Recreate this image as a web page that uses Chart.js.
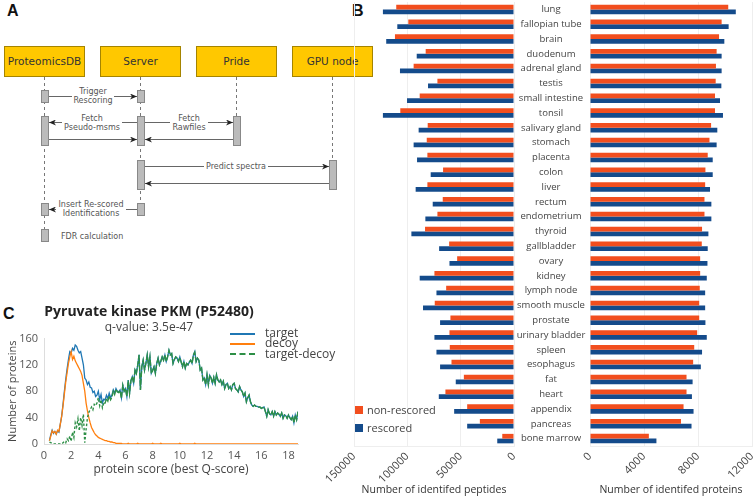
<!DOCTYPE html>
<html>
<head>
<meta charset="utf-8">
<script src="https://cdn.jsdelivr.net/npm/chart.js@4.4.1/dist/chart.umd.min.js"></script>
<style>
  body { margin: 0; background: #fff; }
  #page { position: relative; width: 756px; height: 498px; overflow: hidden; font-family: "Open Sans", sans-serif; }
  .letter { position: absolute; font: bold 16px "Liberation Sans", Arial, sans-serif; color: #111; line-height: 16px; }
  canvas { position: absolute; }
  .sw { position: absolute; width: 8px; height: 8px; }
  .txt { position: absolute; white-space: nowrap; color: #444; }
  .ln { position: absolute; width: 25px; height: 0; }
</style>
</head>
<body>
<div id="page">

  <!-- A: workflow sequence diagram -->
  <svg width="380" height="260" style="position:absolute;left:0;top:0" font-family="DejaVu Sans, sans-serif">
    <defs>
      <marker id="ah" markerWidth="7" markerHeight="6" refX="7" refY="3" orient="auto" markerUnits="userSpaceOnUse">
        <path d="M0,0 L7,3 L0,6 L2,3 z" fill="#222"/>
      </marker>
    </defs>
    <g fill="#ffc800" stroke="#a58400">
      <rect x="4.5" y="46.5" width="80" height="30"/>
      <rect x="100.5" y="46.5" width="80" height="30"/>
      <rect x="196.5" y="46.5" width="80" height="30"/>
      <rect x="292.5" y="46.5" width="80" height="30"/>
    </g>
    <g font-size="10.5" fill="#333" text-anchor="middle">
      <text x="44.5" y="65">ProteomicsDB</text>
      <text x="140.5" y="65">Server</text>
      <text x="236.5" y="65">Pride</text>
      <text x="332.5" y="65">GPU node</text>
    </g>
    <g stroke="#777" stroke-dasharray="3,3">
      <line x1="44.5" y1="77" x2="44.5" y2="229"/>
      <line x1="140.5" y1="77" x2="140.5" y2="203"/>
      <line x1="236.5" y1="77" x2="236.5" y2="116"/>
      <line x1="332.5" y1="77" x2="332.5" y2="160"/>
    </g>
    <g fill="#bbb" stroke="#888">
      <rect x="41.5" y="90.5" width="7" height="12"/>
      <rect x="41.5" y="116.5" width="7" height="29"/>
      <rect x="41.5" y="203.5" width="7" height="12"/>
      <rect x="41.5" y="229.5" width="7" height="12"/>
      <rect x="137.5" y="90.5" width="7" height="12"/>
      <rect x="137.5" y="116.5" width="7" height="29"/>
      <rect x="137.5" y="160.5" width="7" height="29"/>
      <rect x="137.5" y="203.5" width="7" height="12"/>
      <rect x="233.5" y="116.5" width="7" height="29"/>
      <rect x="329.5" y="160.5" width="7" height="29"/>
    </g>
    <g stroke="#666" fill="none" marker-end="url(#ah)">
      <line x1="49" y1="96.5" x2="137" y2="96.5"/>
      <line x1="137" y1="122.5" x2="49" y2="122.5"/>
      <line x1="145" y1="122.5" x2="233" y2="122.5"/>
      <line x1="49" y1="139.5" x2="137" y2="139.5"/>
      <line x1="233" y1="139.5" x2="145" y2="139.5"/>
      <line x1="145" y1="166.5" x2="329" y2="166.5"/>
      <line x1="329" y1="183.5" x2="145" y2="183.5"/>
      <line x1="137" y1="209.5" x2="49" y2="209.5"/>
    </g>
    <g fill="#fff">
      <rect x="72" y="92" width="42" height="9"/>
      <rect x="62" y="118" width="60" height="9"/>
      <rect x="170" y="118" width="38" height="9"/>
      <rect x="204" y="161" width="64" height="10"/>
      <rect x="56" y="205" width="70" height="9"/>
    </g>
    <g font-size="8" fill="#555" text-anchor="middle">
      <text x="93" y="93.5">Trigger</text>
      <text x="93" y="102.5">Rescoring</text>
      <text x="92" y="120.5">Fetch</text>
      <text x="92" y="129.5">Pseudo-msms</text>
      <text x="189" y="120.5">Fetch</text>
      <text x="189" y="129.5">Rawfiles</text>
      <text x="236" y="169">Predict spectra</text>
      <text x="91" y="207">Insert Re-scored</text>
      <text x="91" y="216">Identifications</text>
      <text x="61" y="238.5" text-anchor="start">FDR calculation</text>
    </g>
  </svg>

  <div class="letter" style="left:7px;top:3px">A</div>
  <div class="letter" style="left:352px;top:3px">B</div>
  <div class="letter" style="left:3px;top:306px">C</div>

  <!-- B: identified peptides / proteins per tissue -->
  <canvas id="pepChart" width="224" height="498" style="left:296px;top:0"></canvas>
  <canvas id="protChart" width="260" height="498" style="left:496px;top:0"></canvas>

  <div class="sw" style="left:355px;top:406px;background:#f24e1e"></div>
  <div class="txt" style="left:367px;top:403px;font-size:11px;line-height:14px">non-rescored</div>
  <div class="sw" style="left:355px;top:424px;background:#144b8b"></div>
  <div class="txt" style="left:367px;top:421px;font-size:11px;line-height:14px">rescored</div>

  <!-- C: protein score distribution -->
  <canvas id="scoreChart" width="320" height="202" style="left:0;top:296px"></canvas>

  <div class="ln" style="left:230px;top:333px;border-top:2px solid #1f77b4"></div>
  <div class="txt" style="left:265px;top:326px;font-size:12px;line-height:14px">target</div>
  <div class="ln" style="left:230px;top:343px;border-top:2px solid #ff7f0e"></div>
  <div class="txt" style="left:265px;top:336px;font-size:12px;line-height:14px">decoy</div>
  <div class="ln" style="left:230px;top:353px;border-top:2px dashed #2d8f46"></div>
  <div class="txt" style="left:265px;top:347px;font-size:12px;line-height:14px">target-decoy</div>
</div>

<script>
// ---- panel B data ----
const tissues = ['lung', 'fallopian tube', 'brain', 'duodenum', 'adrenal gland', 'testis',
  'small intestine', 'tonsil', 'salivary gland', 'stomach', 'placenta', 'colon', 'liver',
  'rectum', 'endometrium', 'thyroid', 'gallbladder', 'ovary', 'kidney', 'lymph node',
  'smooth muscle', 'prostate', 'urinary bladder', 'spleen', 'esophagus', 'fat', 'heart',
  'appendix', 'pancreas', 'bone marrow'];

const peptidesNonRescored = [110400, 99100, 111600, 82800, 94100, 71800, 88400, 106600, 80900, 81800,
  81200, 66500, 81200, 66800, 71800, 83400, 60800, 53300, 74600, 63600,
  74300, 59600, 60500, 60200, 58600, 47000, 64300, 43900, 32000, 11000];
const peptidesRescored = [122900, 109400, 119800, 91200, 106900, 80600, 100300, 122900, 89400, 94100,
  90900, 78100, 92200, 76200, 83100, 96200, 70200, 60500, 88400, 72700,
  85300, 69300, 74600, 72700, 69300, 54600, 70500, 56100, 43900, 15700];

const proteinsNonRescored = [10240, 9750, 9560, 9380, 9330, 9310, 9260, 9260, 8970, 8850,
  8720, 8550, 8530, 8480, 8480, 8300, 8280, 8160, 8160, 8130,
  8090, 8090, 7940, 7720, 7640, 7150, 7150, 6930, 6740, 4360];
const proteinsRescored = [10800, 10270, 9950, 9750, 9750, 9730, 9630, 9850, 9430, 9380,
  9090, 9090, 8890, 8990, 8990, 8770, 8720, 8700, 8650, 8530,
  8530, 8550, 8650, 8300, 8210, 7600, 7550, 7670, 7520, 4920];

// ---- panel C data ----
const scoreBins = [0.4, 0.5, 0.6, 0.7, 0.8, 0.9, 1.0, 1.1, 1.2, 1.3,
  1.4, 1.5, 1.6, 1.7, 1.8, 1.9, 2.0, 2.1, 2.2, 2.3,
  2.4, 2.5, 2.6, 2.7, 2.8, 2.9, 3.0, 3.1, 3.2, 3.3,
  3.4, 3.5, 3.6, 3.7, 3.8, 3.9, 4.0, 4.1, 4.2, 4.3,
  4.4, 4.5, 4.6, 4.7, 4.8, 4.9, 5.0, 5.1, 5.2, 5.3,
  5.4, 5.5, 5.6, 5.7, 5.8, 5.9, 6.0, 6.1, 6.2, 6.3,
  6.4, 6.5, 6.6, 6.7, 6.8, 6.9, 7.0, 7.1, 7.2, 7.3,
  7.4, 7.5, 7.6, 7.7, 7.8, 7.9, 8.0, 8.1, 8.2, 8.3,
  8.4, 8.5, 8.6, 8.7, 8.8, 8.9, 9.0, 9.1, 9.2, 9.3,
  9.4, 9.5, 9.6, 9.7, 9.8, 9.9, 10.0, 10.1, 10.2, 10.3,
  10.4, 10.5, 10.6, 10.7, 10.8, 10.9, 11.0, 11.1, 11.2, 11.3,
  11.4, 11.5, 11.6, 11.7, 11.8, 11.9, 12.0, 12.1, 12.2, 12.3,
  12.4, 12.5, 12.6, 12.7, 12.8, 12.9, 13.0, 13.1, 13.2, 13.3,
  13.4, 13.5, 13.6, 13.7, 13.8, 13.9, 14.0, 14.1, 14.2, 14.3,
  14.4, 14.5, 14.6, 14.7, 14.8, 14.9, 15.0, 15.1, 15.2, 15.3,
  15.4, 15.5, 15.6, 15.7, 15.8, 15.9, 16.0, 16.1, 16.2, 16.3,
  16.4, 16.5, 16.6, 16.7, 16.8, 16.9, 17.0, 17.1, 17.2, 17.3,
  17.4, 17.5, 17.6, 17.7, 17.8, 17.9, 18.0, 18.1, 18.2, 18.3,
  18.4, 18.5, 18.6, 18.7];

const target = [5, 14, 21, 16, 19, 15, 20, 18, 30, 42,
  60, 80, 98, 114, 128, 140, 138, 145, 142, 150,
  148, 142, 138, 140, 130, 120, 100, 97, 90, 94,
  86, 85, 78, 80, 72, 74, 80, 67, 75, 62,
  68, 67, 74, 69, 77, 70, 74, 82, 77, 84,
  80, 79, 82, 70, 89, 80, 84, 72, 97, 77,
  96, 102, 92, 112, 107, 120, 135, 82, 117, 127,
  112, 122, 135, 117, 132, 107, 112, 117, 107, 122,
  130, 120, 126, 132, 127, 135, 125, 132, 142, 135,
  137, 122, 128, 132, 130, 125, 132, 124, 117, 125,
  115, 122, 120, 124, 127, 122, 135, 140, 125, 130,
  127, 112, 115, 97, 100, 90, 105, 90, 104, 100,
  92, 101, 92, 105, 97, 94, 97, 90, 95, 84,
  90, 92, 84, 87, 82, 90, 92, 84, 82, 79,
  87, 82, 79, 72, 77, 64, 70, 74, 64, 59,
  57, 59, 57, 57, 56, 56, 54, 55, 56, 49,
  42, 52, 46, 44, 49, 42, 49, 44, 47, 45,
  42, 47, 39, 44, 43, 39, 44, 40, 37, 42,
  32, 44, 37, 49];

const decoy = [5, 12, 20, 17, 19, 15, 21, 19, 30, 42,
  58, 76, 94, 108, 122, 132, 140, 128, 133, 126,
  122, 118, 114, 110, 104, 92, 80, 62, 50, 40,
  32, 25, 21, 17, 14, 12, 10, 9, 8, 7,
  6, 5, 5, 4, 4, 3, 3, 2, 2, 1,
  1, 1, 1, 1, 0, 0, 0, 0, 1, 0,
  0, 0, 0, 0, 0, 1, 0, 0, 0, 0,
  0, 0, 0, 0, 0, 0, 1, 0, 0, 0,
  0, 0, 1, 0, 0, 0, 0, 0, 0, 0,
  0, 0, 0, 0, 0, 0, 1, 0, 0, 0,
  0, 0, 0, 0, 0, 0, 0, 1, 0, 0,
  0, 0, 0, 0, 0, 0, 0, 0, 0, 0,
  0, 0, 0, 0, 0, 0, 0, 0, 0, 0,
  0, 0, 0, 0, 0, 0, 0, 0, 0, 0,
  0, 0, 0, 0, 0, 0, 0, 0, 0, 0,
  0, 0, 0, 0, 0, 0, 0, 0, 0, 0,
  0, 0, 0, 0, 0, 0, 0, 0, 0, 0,
  0, 0, 0, 0, 0, 0, 0, 0, 0, 0,
  0, 0, 0, 0];

const targetDecoy = [3, 2, 1, 0, 0, 0, 0, 0, 0, 0,
  2, 4, 2, 8, 5, 12, 4, 18, 10, 32,
  26, 38, 20, 40, 28, 45, 2, 22, 40, 48,
  52, 56, 52, 60, 58, 62, 70, 58, 67, 55,
  62, 62, 69, 65, 73, 67, 71, 80, 75, 83,
  79, 78, 81, 69, 89, 80, 84, 72, 96, 77,
  96, 102, 92, 112, 107, 119, 135, 82, 117, 127,
  112, 122, 135, 117, 132, 107, 111, 117, 107, 122,
  130, 120, 125, 132, 127, 135, 125, 132, 142, 135,
  137, 122, 128, 132, 130, 125, 131, 124, 117, 125,
  115, 122, 120, 124, 127, 122, 135, 139, 125, 130,
  127, 112, 115, 97, 100, 90, 105, 90, 104, 100,
  92, 101, 92, 105, 97, 94, 97, 90, 95, 84,
  90, 92, 84, 87, 82, 90, 92, 84, 82, 79,
  87, 82, 79, 72, 77, 64, 70, 74, 64, 59,
  57, 59, 57, 57, 56, 56, 54, 55, 56, 49,
  42, 52, 46, 44, 49, 42, 49, 44, 47, 45,
  42, 47, 39, 44, 43, 39, 44, 40, 37, 42,
  32, 44, 37, 49];

const ORANGE = '#f24e1e';
const BLUE = '#144b8b';

Chart.defaults.font.family = '"Open Sans", sans-serif';
Chart.defaults.color = '#444';
Chart.defaults.animation = false;

// x axis of the two bar charts: fixed height, no side padding from rotated labels
function fixBarXAxis(s) {
  s.height = 52;
  s.paddingLeft = 0;
  s.paddingRight = 0;
}

function barXScale(max, step, title, reverse) {
  return {
    min: 0, max: max, reverse: reverse,
    grid: { color: '#eee', drawTicks: false },
    border: { color: '#eee' },
    ticks: { stepSize: step, minRotation: 45, maxRotation: 45, padding: 4,
             font: { size: 11 }, callback: v => String(v) },
    title: { display: true, text: title, font: { size: 10.5 }, color: '#333',
             padding: { top: 0, bottom: 2 } },
    afterFit: fixBarXAxis
  };
}

// LEFT: peptides (mirrored)
new Chart(document.getElementById('pepChart'), {
  type: 'bar',
  data: {
    labels: tissues,
    datasets: [
      { label: 'non-rescored', data: peptidesNonRescored, backgroundColor: ORANGE },
      { label: 'rescored', data: peptidesRescored, backgroundColor: BLUE }
    ]
  },
  options: {
    indexAxis: 'y',
    responsive: false,
    layout: { padding: { left: 58, right: 6, top: 2, bottom: 0 } },
    datasets: { bar: { categoryPercentage: 0.64, barPercentage: 1 } },
    plugins: { legend: { display: false }, tooltip: { enabled: false } },
    scales: {
      x: barXScale(150000, 50000, 'Number of identifed peptides', true),
      y: { display: false }
    }
  }
});

// category labels sit centred between the two charts (centre at x=551, bars start at x=590)
const LABEL_FONT = 9.5;
const mctx = document.createElement('canvas').getContext('2d');
mctx.font = LABEL_FONT + 'px "Open Sans", sans-serif';
const widest = Math.max(...tissues.map(t => mctx.measureText(t).width));
const labelPad = (590 - 551) - widest / 2;

// RIGHT: proteins
new Chart(document.getElementById('protChart'), {
  type: 'bar',
  data: {
    labels: tissues,
    datasets: [
      { label: 'non-rescored', data: proteinsNonRescored, backgroundColor: ORANGE },
      { label: 'rescored', data: proteinsRescored, backgroundColor: BLUE }
    ]
  },
  options: {
    indexAxis: 'y',
    responsive: false,
    layout: { padding: { left: 0, right: 4, top: 2, bottom: 0 } },
    datasets: { bar: { categoryPercentage: 0.64, barPercentage: 1 } },
    plugins: { legend: { display: false }, tooltip: { enabled: false } },
    scales: {
      x: barXScale(12000, 4000, 'Number of identifed proteins', false),
      y: {
        grid: { display: false, drawTicks: false },
        border: { display: false },
        ticks: { autoSkip: false, crossAlign: 'center', padding: labelPad,
                 font: { size: LABEL_FONT }, color: '#444' },
        afterFit: s => { s.width = 94; s.paddingTop = 0; s.paddingBottom = 0; }
      }
    }
  }
});

// C: protein score histogram
const pts = arr => arr.map((y, i) => ({ x: scoreBins[i], y: y }));

new Chart(document.getElementById('scoreChart'), {
  type: 'line',
  data: {
    datasets: [
      { label: 'target', data: pts(target), borderColor: '#1f77b4', borderWidth: 1.3, pointRadius: 0, order: 3 },
      { label: 'decoy', data: pts(decoy), borderColor: '#ff7f0e', borderWidth: 1.3, pointRadius: 0, order: 2 },
      { label: 'target-decoy', data: pts(targetDecoy), borderColor: '#2d8f46', borderWidth: 1.4,
        pointRadius: 0, order: 1,
        // short dashes where it is separate from target, near-solid where it overlays it
        segment: { borderDash: c => c.p0.parsed.x < 4.4 ? [2.5, 2] : [6, 1.5] } }
    ]
  },
  options: {
    responsive: false,
    layout: { padding: { left: 0, right: 22, top: 0, bottom: 0 } },
    plugins: {
      legend: { display: false },
      tooltip: { enabled: false },
      title: { display: true, text: 'Pyruvate kinase PKM (P52480)', color: '#222',
               font: { size: 14, weight: 'bold' }, padding: { top: 7.6, bottom: 0 } },
      subtitle: { display: true, text: 'q-value: 3.5e-47', color: '#444',
                  font: { size: 12 }, padding: { top: 0, bottom: 3.6 } }
    },
    scales: {
      x: {
        type: 'linear', min: 0, max: 18.7,
        grid: { display: false, drawTicks: false },
        border: { color: '#ddd' },
        ticks: { stepSize: 2, includeBounds: false, padding: 5, font: { size: 11 }, color: '#555' },
        title: { display: true, text: 'protein score (best Q-score)', font: { size: 12 }, color: '#444',
                 padding: { top: 0, bottom: 21 } },
        afterFit: s => { s.height = 54; }
      },
      y: {
        min: 0, max: 160,
        grid: { display: false, drawTicks: false },
        border: { color: '#ddd' },
        ticks: { stepSize: 20, padding: 6, font: { size: 11 }, color: '#555' },
        title: { display: true, text: 'Number of proteins', font: { size: 11 }, color: '#444',
                 padding: { top: 6, bottom: 0 } },
        afterFit: s => { s.width = 44; }
      }
    }
  }
});
</script>
</body>
</html>
